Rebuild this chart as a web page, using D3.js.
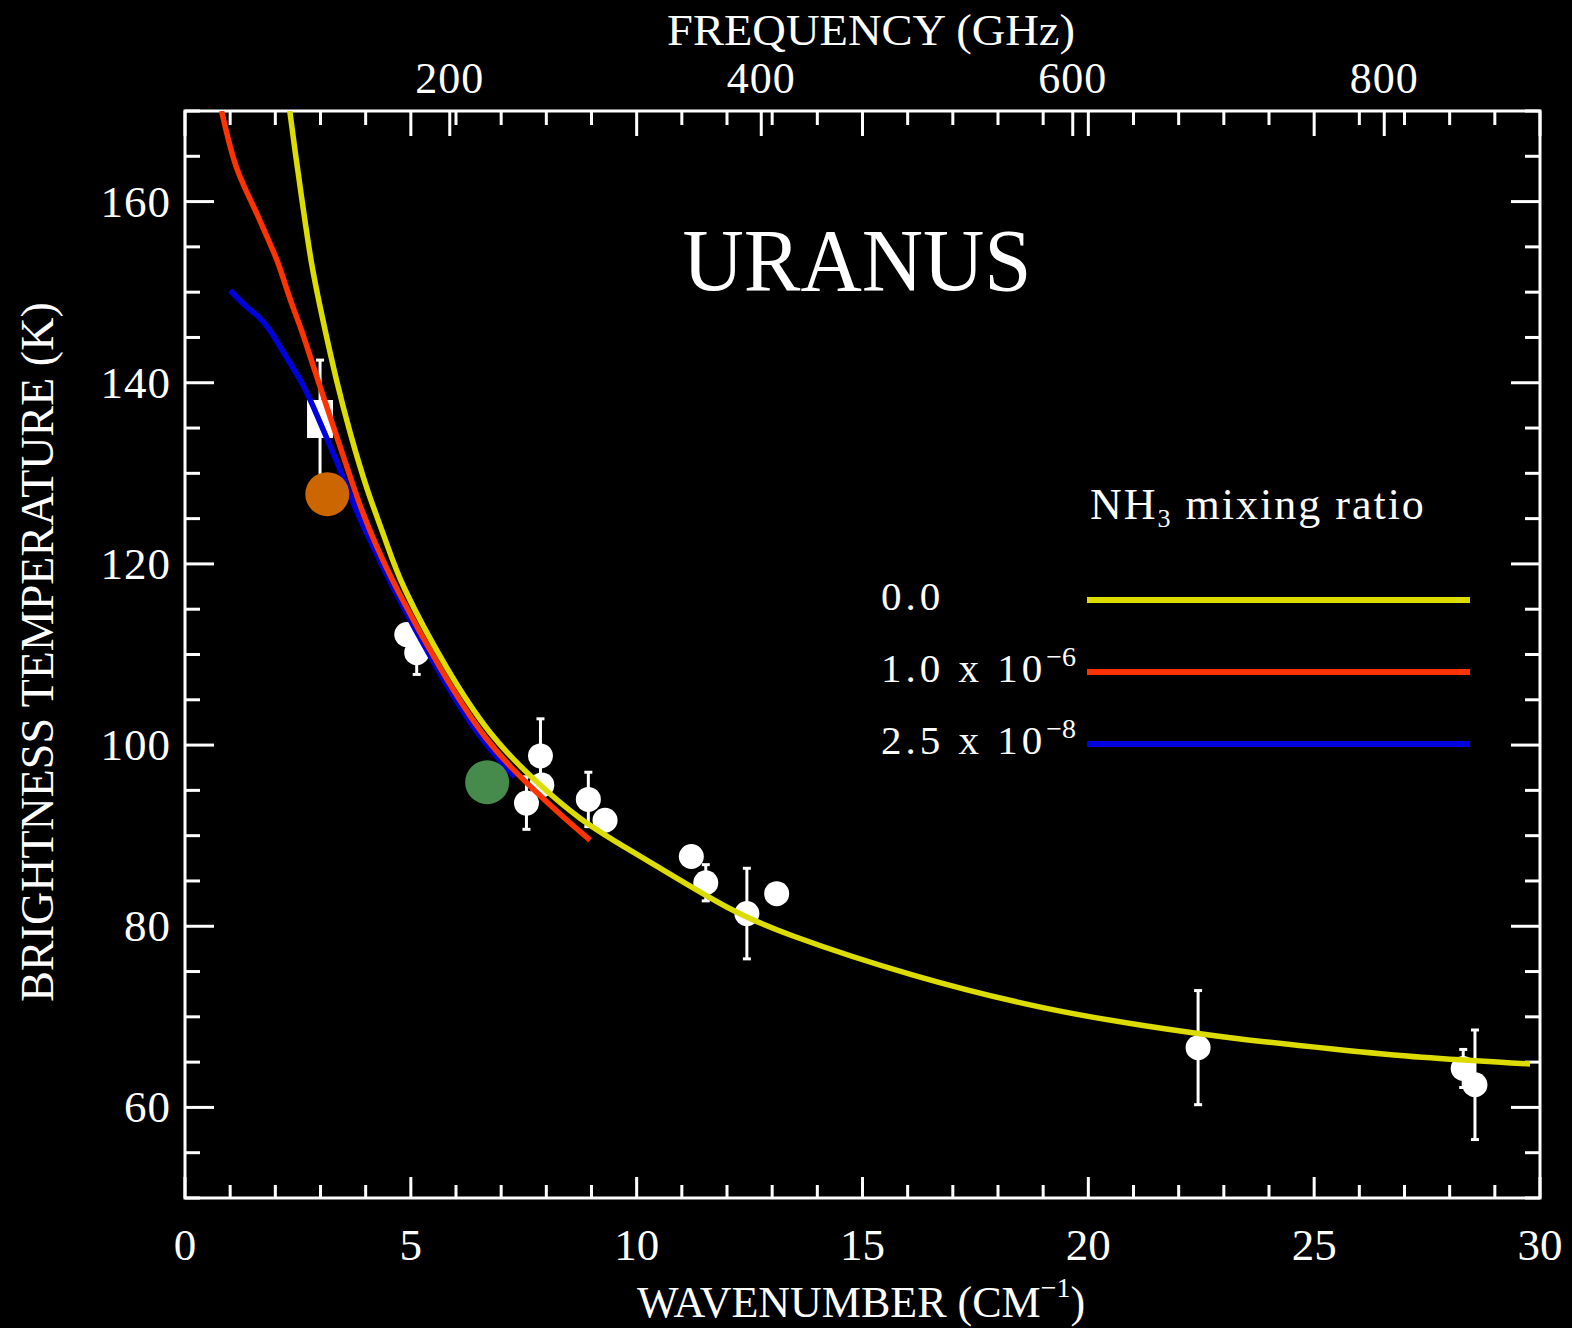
<!DOCTYPE html>
<html>
<head>
<meta charset="utf-8">
<script src="https://cdn.jsdelivr.net/npm/d3@7"></script>
<style>
  html, body { margin: 0; padding: 0; background: #000; }
  svg { display: block; }
  text { font-family: "Liberation Serif", "DejaVu Serif", serif; fill: #fff; }
</style>
</head>
<body>
<div id="chart"></div>
<script>
// ---------------- DATA ----------------
const xTickLabels = [0, 5, 10, 15, 20, 25, 30];          // wavenumber (cm^-1)
const yTickLabels = [60, 80, 100, 120, 140, 160];        // brightness temperature (K)
const freqTickLabels = [200, 400, 600, 800];             // frequency (GHz)

// Model curves: [wavenumber, temperature]
const curveNH3_0 = [[2.32,170],[2.43,165.8],[2.62,159.1],[2.80,152.9],[3.03,147.4],[3.36,140],[3.65,134.5],
  [4.02,128.2],[4.47,122.3],[4.76,117.9],[5.79,108.3],[6.75,101.0],[7.71,96.2],[8.74,91.7],[9.85,88.4],
  [10.96,85.1],[12.07,81.8],[13.17,79.3],[16.12,74.4],[19.08,70.75],[21.36,68.9],[23.2,67.6],[25.5,66.4],
  [27.27,65.5],[29.78,64.8]];
const curveNH3_1e6 = [[0.81,170],[0.92,167.6],[1.11,163.9],[1.37,161.0],[1.62,158.4],[1.84,155.8],[2.07,153.3],
  [2.32,149.2],[2.55,146.3],[2.77,142.9],[2.99,139.6],[3.28,135.2],[3.58,130.8],[3.87,126.4],[4.24,121.9],
  [4.61,117.9],[5.65,108.3],[6.68,100.2],[7.64,95.4],[8.45,91.7],[8.97,89.5]];
const curveNH3_25e8 = [[1.0,150.2],[1.37,148.3],[1.62,147.4],[1.88,145.9],[2.10,144.0],[2.32,142.2],[2.55,140.4],
  [2.77,138.2],[2.99,135.6],[3.28,132.3],[3.58,128.6],[3.87,124.9],[4.17,121.9],[4.54,117.9],[5.58,108.3],
  [6.53,100.6],[7.3,96.5]];

// Observations (white circles with error bars)
const obsWavenumber = [4.91, 5.13, 7.87, 7.90, 7.56, 8.93, 9.30, 11.21, 11.53, 12.44, 13.10, 22.43, 28.30, 28.56];
const obsTemp       = [112.2, 110.2, 98.8, 95.6, 93.6, 94.0, 91.7, 87.7, 84.8, 81.4, 83.6, 66.6, 64.3, 62.5];
const obsErr        = [0, 2.4, 4.1, 0, 2.9, 3.0, 0, 0, 2.0, 5.0, 0, 6.3, 2.1, 6.05];

// Square observation
const sqWavenumber = [2.99];
const sqTemp = [136.0];
const sqErr = [6.5];

// Highlighted points
const highlightWavenumber = [3.15, 6.69];
const highlightTemp = [127.7, 95.9];
const highlightColor = ["#cc6600", "#468b4b"];

// Legend
const legendMantissa = ["0.0", "1.0 x 10", "2.5 x 10"];
const legendExponent = ["", "\u22126", "\u22128"];
const seriesColors = ["#dcdc00", "#ff3300", "#0000dd"];

// ---------------- CHART ----------------
const W = 1572, H = 1328;
const svg = d3.select("#chart").append("svg").attr("width", W).attr("height", H)
  .style("background", "#000");

const L = 185, R = 1540, T = 111, B = 1198;
const x = d3.scaleLinear().domain([0, 30]).range([L, R]);
const y = d3.scaleLinear().domain([50, 170]).range([B, T]);
const f = d3.scaleLinear().domain([30, 900]).range([L, R]);

svg.append("defs").append("clipPath").attr("id", "plotclip")
  .append("rect").attr("x", L).attr("y", T).attr("width", R - L).attr("height", B - T);

const ax = svg.append("g").attr("stroke", "#fff").attr("stroke-width", 3);

// bottom & top wavenumber ticks
d3.range(0, 31, 1).forEach(v => {
  const major = v % 5 === 0;
  ax.append("line").attr("x1", x(v)).attr("x2", x(v)).attr("y1", B).attr("y2", B - (major ? 21 : 13));
  ax.append("line").attr("x1", x(v)).attr("x2", x(v)).attr("y1", T).attr("y2", T + (major ? 25 : 14));
});
// top frequency ticks
freqTickLabels.forEach(v => {
  ax.append("line").attr("x1", f(v)).attr("x2", f(v)).attr("y1", T).attr("y2", T + 25);
});
// left/right ticks
d3.range(50, 171, 5).forEach(v => {
  const major = v % 20 === 0;
  ax.append("line").attr("y1", y(v)).attr("y2", y(v)).attr("x1", L).attr("x2", L + (major ? 29 : 15));
  ax.append("line").attr("y1", y(v)).attr("y2", y(v)).attr("x1", R).attr("x2", R - (major ? 29 : 15));
});

// frame
svg.append("rect").attr("x", L).attr("y", T).attr("width", R - L).attr("height", B - T)
  .attr("fill", "none").attr("stroke", "#fff").attr("stroke-width", 3);

// tick labels
svg.append("g").selectAll("text").data(xTickLabels).join("text")
  .attr("x", d => x(d)).attr("y", 1260).attr("text-anchor", "middle")
  .attr("font-size", 45).text(d => d);
svg.append("g").selectAll("text").data(yTickLabels).join("text")
  .attr("x", 171).attr("y", d => y(d) + 15).attr("text-anchor", "end")
  .attr("font-size", 45).attr("letter-spacing", 1).text(d => d);
svg.append("g").selectAll("text").data(freqTickLabels).join("text")
  .attr("x", d => f(d)).attr("y", 93).attr("text-anchor", "middle")
  .attr("font-size", 44).attr("letter-spacing", 1).text(d => d);

// axis titles
svg.append("text").attr("x", 871).attr("y", 45).attr("text-anchor", "middle")
  .attr("font-size", 44).attr("textLength", 408).attr("lengthAdjust", "spacingAndGlyphs")
  .text("FREQUENCY (GHz)");

const xt = svg.append("text").attr("x", 861).attr("y", 1317).attr("text-anchor", "middle").attr("font-size", 44);
xt.append("tspan").text("WAVENUMBER (CM");
xt.append("tspan").attr("font-size", 28).attr("dy", -20).text("\u22121");
xt.append("tspan").attr("dy", 20).text(")");

svg.append("text").attr("transform", "translate(53,652) rotate(-90)")
  .attr("text-anchor", "middle").attr("font-size", 46).text("BRIGHTNESS TEMPERATURE (K)");

// title
svg.append("text").attr("x", 857).attr("y", 290).attr("text-anchor", "middle")
  .attr("font-size", 88).attr("textLength", 349).attr("lengthAdjust", "spacingAndGlyphs").text("URANUS");

// plot content
const plot = svg.append("g").attr("clip-path", "url(#plotclip)");

// white observations: error bars
const obs = obsWavenumber.map((w, i) => ({ w, t: obsTemp[i], e: obsErr[i] }));
const eb = plot.append("g").attr("stroke", "#fff").attr("stroke-width", 3);
function errorBar(w, t, e) {
  eb.append("line").attr("x1", x(w)).attr("x2", x(w)).attr("y1", y(t + e)).attr("y2", y(t - e));
  eb.append("line").attr("x1", x(w) - 4).attr("x2", x(w) + 4).attr("y1", y(t + e)).attr("y2", y(t + e));
  eb.append("line").attr("x1", x(w) - 4).attr("x2", x(w) + 4).attr("y1", y(t - e)).attr("y2", y(t - e));
}
obs.filter(d => d.e > 0).forEach(d => errorBar(d.w, d.t, d.e));
plot.append("g").selectAll("circle").data(obs).join("circle")
  .attr("cx", d => x(d.w)).attr("cy", d => y(d.t)).attr("r", 12.5).attr("fill", "#fff");

// square obs
sqWavenumber.forEach((w, i) => {
  errorBar(w, sqTemp[i], sqErr[i]);
  plot.append("rect").attr("x", x(w) - 13).attr("y", y(sqTemp[i]) - 19)
    .attr("width", 26).attr("height", 38).attr("fill", "#fff");
});

// model curves
const line = d3.line().x(d => x(d[0])).y(d => y(d[1])).curve(d3.curveBasis);
const curves = [curveNH3_25e8, curveNH3_1e6, curveNH3_0];
const curveCols = [seriesColors[2], seriesColors[1], seriesColors[0]];
curves.forEach((c, i) => {
  plot.append("path").attr("d", line(c)).attr("fill", "none")
    .attr("stroke", curveCols[i]).attr("stroke-width", 5.5).attr("stroke-linejoin", "round");
});

// highlighted circles
plot.append("g").selectAll("circle").data(highlightWavenumber).join("circle")
  .attr("cx", d => x(d)).attr("cy", (d, i) => y(highlightTemp[i])).attr("r", 22)
  .attr("fill", (d, i) => highlightColor[i]);

// legend
svg.append("text").attr("x", 1090).attr("y", 519).attr("font-size", 44).attr("letter-spacing", 2)
  .call(t => {
    t.append("tspan").text("NH");
    t.append("tspan").attr("font-size", 26).attr("dy", 8).text("3");
    t.append("tspan").attr("dy", -8).text(" mixing ratio");
  });
const legY = [600, 672, 744];
legendMantissa.forEach((m, i) => {
  svg.append("line").attr("x1", 1087).attr("x2", 1470).attr("y1", legY[i]).attr("y2", legY[i])
    .attr("stroke", seriesColors[i]).attr("stroke-width", 6);
  const t = svg.append("text").attr("x", 881).attr("y", legY[i] + 10).attr("font-size", 41).attr("letter-spacing", 4);
  t.append("tspan").text(m);
  if (legendExponent[i]) {
    t.append("tspan").attr("font-size", 28).attr("dy", -16).attr("letter-spacing", 0).text(legendExponent[i]);
  }
});
</script>
</body>
</html>
